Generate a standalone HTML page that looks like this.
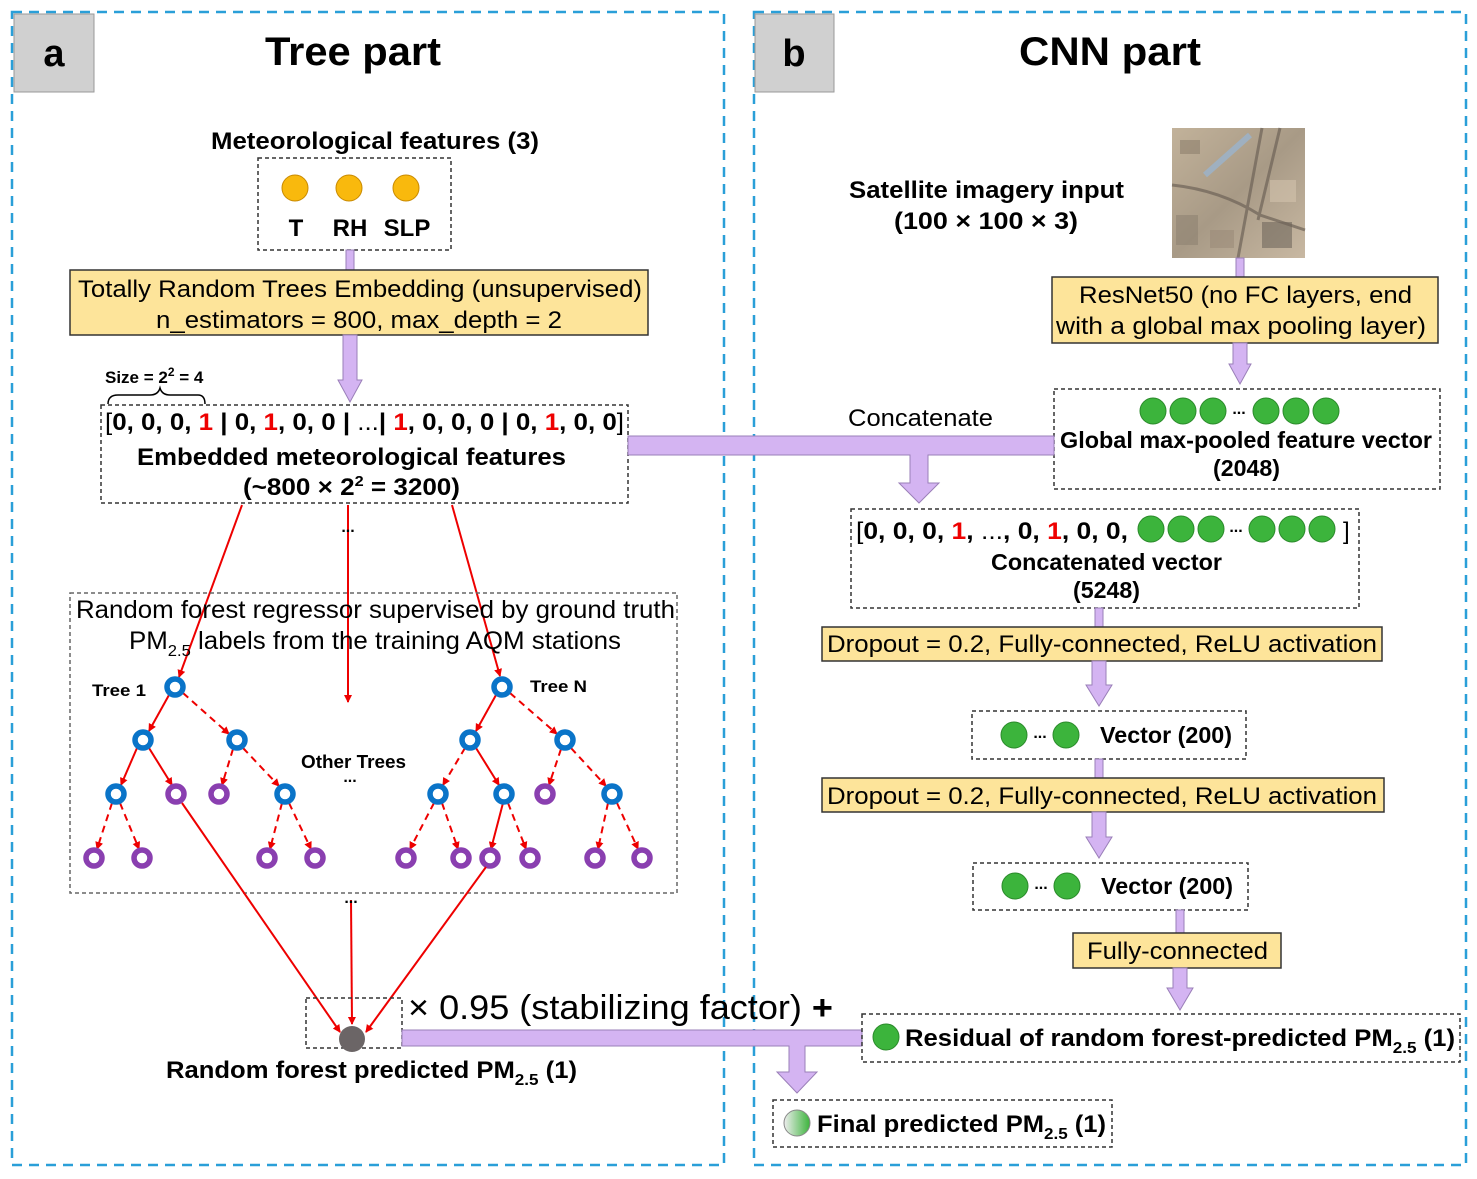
<!DOCTYPE html>
<html><head><meta charset="utf-8"><style>
html,body{margin:0;padding:0;background:#fff}
svg{display:block}
text{font-family:"Liberation Sans",Arial,sans-serif}
.b{font-weight:bold}
</style></head><body>
<svg width="1477" height="1179" viewBox="0 0 1477 1179" xmlns="http://www.w3.org/2000/svg">
<defs>
<marker id="ra" markerWidth="8" markerHeight="8" refX="7" refY="4" orient="auto" markerUnits="userSpaceOnUse"><path d="M0,0 L8,4 L0,8 z" fill="#e00"/></marker>
<linearGradient id="gg" x1="0" x2="1"><stop offset="0" stop-color="#eee"/><stop offset="1" stop-color="#3cb43c"/></linearGradient>
<linearGradient id="sat" x1="0" y1="0" x2="1" y2="1"><stop offset="0" stop-color="#c2b29a"/><stop offset="0.5" stop-color="#a89a86"/><stop offset="1" stop-color="#c8b8a2"/></linearGradient>
</defs>
<!-- panels -->
<rect x="12" y="12" width="712" height="1153" fill="none" stroke="#2a9fd8" stroke-width="2.5" stroke-dasharray="10,7"/>
<rect x="754" y="12" width="712" height="1153" fill="none" stroke="#2a9fd8" stroke-width="2.5" stroke-dasharray="10,7"/>
<rect x="14" y="14" width="80" height="78" fill="#d0d0d0" stroke="#999"/>
<rect x="755" y="14" width="79" height="78" fill="#d0d0d0" stroke="#999"/>
<text x="54" y="66" font-size="38" class="b" text-anchor="middle">a</text>
<text x="794" y="66" font-size="38" class="b" text-anchor="middle">b</text>
<text x="265" y="65" font-size="40" class="b" textLength="176" lengthAdjust="spacingAndGlyphs">Tree part</text>
<text x="1019" y="65" font-size="40" class="b" textLength="182" lengthAdjust="spacingAndGlyphs">CNN part</text>

<!-- meteorological -->
<text x="211" y="149" font-size="24" class="b" textLength="328" lengthAdjust="spacingAndGlyphs">Meteorological features (3)</text>
<rect x="258" y="158" width="193" height="92" fill="none" stroke="#333" stroke-width="1.5" stroke-dasharray="4,3"/>
<g fill="#f9b90d" stroke="#c98a00" stroke-width="1"><circle cx="295" cy="188" r="13"/><circle cx="349" cy="188" r="13"/><circle cx="406" cy="188" r="13"/></g>
<text x="296" y="236" font-size="24" class="b" text-anchor="middle">T</text>
<text x="350" y="236" font-size="24" class="b" text-anchor="middle">RH</text>
<text x="407" y="236" font-size="24" class="b" text-anchor="middle">SLP</text>
<rect x="346" y="250" width="8" height="20" fill="#d4b4f2" stroke="#9a7fb8"/>
<rect x="70" y="270" width="578" height="65" fill="#fde49a" stroke="#333" stroke-width="1.5"/>
<text x="78" y="297" font-size="24" textLength="564" lengthAdjust="spacingAndGlyphs">Totally Random Trees Embedding (unsupervised)</text>
<text x="156" y="328" font-size="24" textLength="406" lengthAdjust="spacingAndGlyphs">n_estimators = 800, max_depth = 2</text>
<polygon points="343,335 357,335 357,380 362,380 350,402 338,380 343,380" fill="#d4b4f2" stroke="#9a7fb8"/>
<text x="105" y="383" font-size="17" class="b">Size = 2<tspan font-size="12" dy="-7">2</tspan><tspan dy="7"> = 4</tspan></text>
<path d="M108,404 Q108,395 118,395 L150,395 Q158,395 160,388 Q162,395 170,395 L198,395 Q205,395 205,404" fill="none" stroke="#000" stroke-width="1.5"/>
<rect x="101" y="405" width="527" height="98" fill="none" stroke="#333" stroke-width="1.5" stroke-dasharray="4,3"/>
<text x="105" y="430" font-size="24" class="b" textLength="519" lengthAdjust="spacingAndGlyphs"><tspan font-weight="normal">[</tspan>0, 0, 0, <tspan fill="#e00">1</tspan> | 0, <tspan fill="#e00">1</tspan>, 0, 0 | <tspan font-weight="normal">...</tspan>| <tspan fill="#e00">1</tspan>, 0, 0, 0 | 0, <tspan fill="#e00">1</tspan>, 0, 0<tspan font-weight="normal">]</tspan></text>
<text x="137" y="465" font-size="24" class="b" textLength="429" lengthAdjust="spacingAndGlyphs">Embedded meteorological features</text>
<text x="243" y="495" font-size="24" class="b" textLength="217" lengthAdjust="spacingAndGlyphs">(~800 × 2<tspan font-size="15" dy="-9">2</tspan><tspan dy="9"> = 3200)</tspan></text>

<!-- red lines to trees -->
<g stroke="#e00" stroke-width="2" fill="none" marker-end="url(#ra)">
<line x1="242" y1="505" x2="179" y2="677"/>
<line x1="348" y1="505" x2="348" y2="702"/>
<line x1="452" y1="505" x2="500" y2="676"/>
</g>
<text x="348" y="532" font-size="16" class="b" text-anchor="middle">...</text>
<rect x="70" y="593" width="607" height="300" fill="none" stroke="#666" stroke-width="1.5" stroke-dasharray="4,3"/>
<text x="76" y="618" font-size="25" textLength="599" lengthAdjust="spacingAndGlyphs">Random forest regressor supervised by ground truth</text>
<text x="129" y="649" font-size="25" textLength="492" lengthAdjust="spacingAndGlyphs">PM<tspan font-size="16" dy="7">2.5</tspan><tspan dy="-7"> labels from the training AQM stations</tspan></text>
<text x="92" y="696" font-size="17" class="b" textLength="54" lengthAdjust="spacingAndGlyphs">Tree 1</text>
<text x="530" y="692" font-size="17" class="b" textLength="57" lengthAdjust="spacingAndGlyphs">Tree N</text>
<text x="301" y="768" font-size="18" class="b" textLength="105" lengthAdjust="spacingAndGlyphs">Other Trees</text>
<text x="350" y="782" font-size="16" class="b" text-anchor="middle">...</text>

<!-- tree edges -->
<g stroke="#e00" stroke-width="2" fill="none" marker-end="url(#ra)">
<line x1="169" y1="695" x2="149" y2="731"/>
<line x1="137" y1="748" x2="121" y2="785"/>
<line x1="149" y1="748" x2="172" y2="785"/>
<line x1="496" y1="695" x2="476" y2="731"/>
<line x1="476" y1="748" x2="499" y2="785"/>
<line x1="503" y1="803" x2="491" y2="849"/>
</g>
<g stroke="#e00" stroke-width="2" fill="none" stroke-dasharray="7,5" marker-end="url(#ra)">
<line x1="183" y1="693" x2="229" y2="734"/>
<line x1="233" y1="749" x2="222" y2="785"/>
<line x1="243" y1="748" x2="279" y2="786"/>
<line x1="112" y1="803" x2="97" y2="849"/>
<line x1="120" y1="803" x2="139" y2="849"/>
<line x1="282" y1="803" x2="270" y2="849"/>
<line x1="289" y1="803" x2="311" y2="849"/>
<line x1="510" y1="693" x2="557" y2="734"/>
<line x1="465" y1="748" x2="443" y2="785"/>
<line x1="561" y1="749" x2="549" y2="785"/>
<line x1="571" y1="748" x2="606" y2="786"/>
<line x1="434" y1="803" x2="410" y2="849"/>
<line x1="442" y1="803" x2="458" y2="849"/>
<line x1="508" y1="803" x2="526" y2="849"/>
<line x1="608" y1="803" x2="598" y2="849"/>
<line x1="617" y1="803" x2="638" y2="849"/>
</g>
<g fill="#fff" stroke="#0a74c8" stroke-width="5.5">
<circle cx="175" cy="687" r="8"/><circle cx="143" cy="740" r="8"/><circle cx="237" cy="740" r="8"/><circle cx="116" cy="794" r="8"/><circle cx="285" cy="794" r="8"/>
<circle cx="502" cy="687" r="8"/><circle cx="470" cy="740" r="8"/><circle cx="565" cy="740" r="8"/><circle cx="438" cy="794" r="8"/><circle cx="504" cy="794" r="8"/><circle cx="612" cy="794" r="8"/>
</g>
<g fill="#fff" stroke="#8a3fb0" stroke-width="5.5">
<circle cx="176" cy="794" r="8"/><circle cx="219" cy="794" r="8"/><circle cx="545" cy="794" r="8"/>
<circle cx="94" cy="858" r="8"/><circle cx="142" cy="858" r="8"/><circle cx="267" cy="858" r="8"/><circle cx="315" cy="858" r="8"/>
<circle cx="406" cy="858" r="8"/><circle cx="461" cy="858" r="8"/><circle cx="490" cy="858" r="8"/><circle cx="530" cy="858" r="8"/><circle cx="595" cy="858" r="8"/><circle cx="642" cy="858" r="8"/>
</g>
<g stroke="#e00" stroke-width="2" fill="none" marker-end="url(#ra)">
<line x1="182" y1="803" x2="340" y2="1032"/>
<line x1="486" y1="867" x2="366" y2="1032"/>
<line x1="351" y1="900" x2="352" y2="1024"/>
</g>
<text x="351" y="903" font-size="16" class="b" text-anchor="middle">...</text>

<!-- prediction -->
<rect x="306" y="998" width="96" height="50" fill="none" stroke="#333" stroke-width="1.5" stroke-dasharray="4,3"/>
<circle cx="352" cy="1039" r="13" fill="#6b6566"/>
<text x="166" y="1078" font-size="24" class="b" textLength="411" lengthAdjust="spacingAndGlyphs">Random forest predicted PM<tspan font-size="16" dy="7">2.5</tspan><tspan dy="-7"> (1)</tspan></text>
<text x="408" y="1019" font-size="34" textLength="425" lengthAdjust="spacingAndGlyphs">× 0.95 (stabilizing factor) <tspan font-weight="bold">+</tspan></text>
<polygon points="402,1030 862,1030 862,1046 805,1046 805,1072 817,1072 797,1093 777,1072 789,1072 789,1046 402,1046" fill="#d4b4f2" stroke="#9a7fb8"/>
<rect x="862" y="1014" width="598" height="48" fill="none" stroke="#333" stroke-width="1.5" stroke-dasharray="4,3"/>
<circle cx="886" cy="1037" r="13" fill="#3cb43c" stroke="#2a8a2a"/>
<text x="905" y="1046" font-size="24" class="b" textLength="550" lengthAdjust="spacingAndGlyphs">Residual of random forest-predicted PM<tspan font-size="16" dy="7">2.5</tspan><tspan dy="-7"> (1)</tspan></text>
<rect x="773" y="1100" width="339" height="47" fill="none" stroke="#333" stroke-width="1.5" stroke-dasharray="4,3"/>
<circle cx="797" cy="1123" r="13" fill="url(#gg)" stroke="#888"/>
<text x="817" y="1132" font-size="24" class="b" textLength="289" lengthAdjust="spacingAndGlyphs">Final predicted PM<tspan font-size="16" dy="7">2.5</tspan><tspan dy="-7"> (1)</tspan></text>

<!-- CNN -->
<text x="849" y="198" font-size="24" class="b" textLength="275" lengthAdjust="spacingAndGlyphs">Satellite imagery input</text>
<text x="894" y="229" font-size="24" class="b" textLength="184" lengthAdjust="spacingAndGlyphs">(100 × 100 × 3)</text>
<rect x="1172" y="128" width="133" height="130" fill="url(#sat)"/>
<g opacity="0.55">
<rect x="1180" y="140" width="20" height="14" fill="#8a7c6a"/><rect x="1210" y="230" width="24" height="18" fill="#9a8a78"/>
<rect x="1270" y="180" width="26" height="22" fill="#d6c6b0"/><rect x="1262" y="222" width="30" height="26" fill="#6a6258"/>
<rect x="1176" y="215" width="22" height="30" fill="#8c8070"/>
</g>
<g stroke="#6e6358" stroke-width="3" fill="none" opacity="0.7">
<path d="M1172,185 Q1220,190 1260,215 L1305,230"/><path d="M1262,128 L1238,258"/><path d="M1280,128 L1258,220"/>
</g>
<path d="M1205,175 L1250,135" stroke="#9fb0c0" stroke-width="6"/>
<rect x="1236" y="258" width="8" height="19" fill="#d4b4f2" stroke="#9a7fb8"/>
<rect x="1052" y="277" width="386" height="66" fill="#fde49a" stroke="#333" stroke-width="1.5"/>
<text x="1079" y="303" font-size="24" textLength="333" lengthAdjust="spacingAndGlyphs">ResNet50 (no FC layers, end</text>
<text x="1056" y="334" font-size="24" textLength="370" lengthAdjust="spacingAndGlyphs">with a global max pooling layer)</text>
<polygon points="1233,343 1247,343 1247,364 1251,364 1240,384 1229,364 1233,364" fill="#d4b4f2" stroke="#9a7fb8"/>
<rect x="1054" y="389" width="386" height="100" fill="none" stroke="#333" stroke-width="1.5" stroke-dasharray="4,3"/>
<g fill="#3cb43c" stroke="#2a8a2a"><circle cx="1153" cy="411" r="13"/><circle cx="1183" cy="411" r="13"/><circle cx="1213" cy="411" r="13"/><circle cx="1266" cy="411" r="13"/><circle cx="1296" cy="411" r="13"/><circle cx="1326" cy="411" r="13"/></g>
<text x="1239" y="414" font-size="16" class="b" text-anchor="middle">...</text>
<text x="1060" y="448" font-size="23" class="b" textLength="372" lengthAdjust="spacingAndGlyphs">Global max-pooled feature vector</text>
<text x="1213" y="476" font-size="23" class="b" textLength="67" lengthAdjust="spacingAndGlyphs">(2048)</text>
<text x="848" y="426" font-size="24" textLength="145" lengthAdjust="spacingAndGlyphs">Concatenate</text>
<polygon points="628,436 1054,436 1054,455 928,455 928,483 939,483 919,503 899,483 910,483 910,455 628,455" fill="#d4b4f2" stroke="#9a7fb8"/>
<rect x="851" y="509" width="508" height="99" fill="none" stroke="#333" stroke-width="1.5" stroke-dasharray="4,3"/>
<text x="856" y="539" font-size="24" class="b" textLength="272" lengthAdjust="spacingAndGlyphs"><tspan font-weight="normal">[</tspan>0, 0, 0, <tspan fill="#e00">1</tspan>, <tspan font-weight="normal">...</tspan>,  0, <tspan fill="#e00">1</tspan>, 0, 0,</text>
<g fill="#3cb43c" stroke="#2a8a2a"><circle cx="1151" cy="529" r="13"/><circle cx="1181" cy="529" r="13"/><circle cx="1211" cy="529" r="13"/><circle cx="1262" cy="529" r="13"/><circle cx="1292" cy="529" r="13"/><circle cx="1322" cy="529" r="13"/></g>
<text x="1236" y="532" font-size="16" class="b" text-anchor="middle">...</text>
<text x="1343" y="539" font-size="24">]</text>
<text x="991" y="570" font-size="23" class="b" textLength="231" lengthAdjust="spacingAndGlyphs">Concatenated vector</text>
<text x="1073" y="598" font-size="23" class="b" textLength="67" lengthAdjust="spacingAndGlyphs">(5248)</text>
<rect x="1095" y="608" width="8" height="19" fill="#d4b4f2" stroke="#9a7fb8"/>
<rect x="822" y="627" width="560" height="34" fill="#fde49a" stroke="#333" stroke-width="1.5"/>
<text x="827" y="652" font-size="24" textLength="550" lengthAdjust="spacingAndGlyphs">Dropout = 0.2, Fully-connected, ReLU activation</text>
<polygon points="1092,661 1106,661 1106,685 1112,685 1099,706 1086,685 1092,685" fill="#d4b4f2" stroke="#9a7fb8"/>
<rect x="972" y="711" width="274" height="48" fill="none" stroke="#333" stroke-width="1.5" stroke-dasharray="4,3"/>
<g fill="#3cb43c" stroke="#2a8a2a"><circle cx="1014" cy="735" r="13"/><circle cx="1066" cy="735" r="13"/></g>
<text x="1040" y="738" font-size="16" class="b" text-anchor="middle">...</text>
<text x="1100" y="743" font-size="23" class="b" textLength="132" lengthAdjust="spacingAndGlyphs">Vector (200)</text>
<rect x="1095" y="759" width="8" height="19" fill="#d4b4f2" stroke="#9a7fb8"/>
<rect x="822" y="778" width="562" height="34" fill="#fde49a" stroke="#333" stroke-width="1.5"/>
<text x="827" y="804" font-size="24" textLength="550" lengthAdjust="spacingAndGlyphs">Dropout = 0.2, Fully-connected, ReLU activation</text>
<polygon points="1092,812 1106,812 1106,837 1112,837 1099,858 1086,837 1092,837" fill="#d4b4f2" stroke="#9a7fb8"/>
<rect x="973" y="863" width="275" height="47" fill="none" stroke="#333" stroke-width="1.5" stroke-dasharray="4,3"/>
<g fill="#3cb43c" stroke="#2a8a2a"><circle cx="1015" cy="886" r="13"/><circle cx="1067" cy="886" r="13"/></g>
<text x="1041" y="889" font-size="16" class="b" text-anchor="middle">...</text>
<text x="1101" y="894" font-size="23" class="b" textLength="132" lengthAdjust="spacingAndGlyphs">Vector (200)</text>
<rect x="1176" y="910" width="8" height="23" fill="#d4b4f2" stroke="#9a7fb8"/>
<rect x="1073" y="933" width="208" height="35" fill="#fde49a" stroke="#333" stroke-width="1.5"/>
<text x="1087" y="959" font-size="24" textLength="181" lengthAdjust="spacingAndGlyphs">Fully-connected</text>
<polygon points="1173,968 1187,968 1187,988 1193,988 1180,1010 1167,988 1173,988" fill="#d4b4f2" stroke="#9a7fb8"/>
</svg>
</body></html>
